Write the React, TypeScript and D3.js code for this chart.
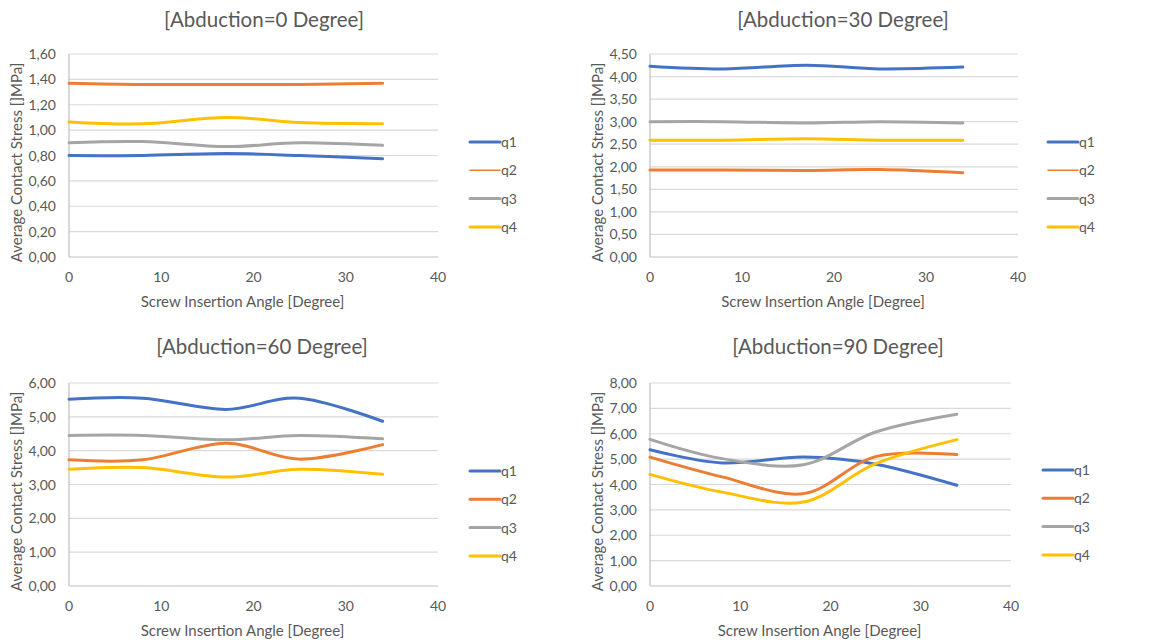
import * as d3 from 'd3';

// Screw insertion angles (x values)
const angles = [0, 8, 17, 25, 34];
const seriesNames = ['q1', 'q2', 'q3', 'q4'];
const colors = ['#4472C4', '#ED7D31', '#A5A5A5', '#FFC000'];

// Abduction = 0
const abd0_q1 = [0.8, 0.8, 0.815, 0.8, 0.775];
const abd0_q2 = [1.37, 1.36, 1.36, 1.36, 1.37];
const abd0_q3 = [0.9, 0.91, 0.87, 0.9, 0.88];
const abd0_q4 = [1.065, 1.05, 1.1, 1.06, 1.05];

// Abduction = 30
const abd30_q1 = [4.23, 4.17, 4.25, 4.17, 4.21];
const abd30_q2 = [1.93, 1.93, 1.92, 1.94, 1.87];
const abd30_q3 = [3.0, 3.0, 2.97, 3.0, 2.97];
const abd30_q4 = [2.59, 2.59, 2.62, 2.59, 2.59];

// Abduction = 60
const abd60_q1 = [5.52, 5.55, 5.22, 5.55, 4.87];
const abd60_q2 = [3.73, 3.73, 4.22, 3.75, 4.18];
const abd60_q3 = [4.45, 4.45, 4.32, 4.45, 4.35];
const abd60_q4 = [3.45, 3.5, 3.22, 3.45, 3.3];

// Abduction = 90
const abd90_q1 = [5.37, 4.85, 5.08, 4.8, 3.97];
const abd90_q2 = [5.08, 4.3, 3.64, 5.1, 5.18];
const abd90_q3 = [5.78, 5.02, 4.78, 6.07, 6.77];
const abd90_q4 = [4.4, 3.7, 3.31, 4.82, 5.77];

const xTicks = [0, 10, 20, 30, 40];
const yTicks0 = [0, 0.2, 0.4, 0.6, 0.8, 1.0, 1.2, 1.4, 1.6];
const yTicks30 = [0, 0.5, 1.0, 1.5, 2.0, 2.5, 3.0, 3.5, 4.0, 4.5];
const yTicks60 = [0, 1, 2, 3, 4, 5, 6];
const yTicks90 = [0, 1, 2, 3, 4, 5, 6, 7, 8];

const titles = [
  '[Abduction=0 Degree]',
  '[Abduction=30 Degree]',
  '[Abduction=60 Degree]',
  '[Abduction=90 Degree]',
];

const FONT = 'Lato, "Open Sans", sans-serif';
const TEXT = '#595959';

const fmt = (v: number) => d3.format('.2f')(v).replace('.', ',');

type PanelProps = {
  title: string;
  series: number[][];
  yTicks: number[];
  x0: number; x1: number; yTop: number; yBot: number;
  titleX: number; titleY: number;
  legX: number; legY: number;
  yLabX: number;
  thinQ2Legend: boolean;
};

function Panel(p: PanelProps) {
  const x = d3.scaleLinear().domain([0, 40]).range([p.x0, p.x1]);
  const y = d3.scaleLinear().domain([0, p.yTicks[p.yTicks.length - 1]]).range([p.yBot, p.yTop]);
  const line = d3.line<number>()
    .x((_, i) => x(angles[i]))
    .y(d => y(d))
    .curve(d3.curveCardinal.tension(0));
  const yMid = (p.yTop + p.yBot) / 2 + 7;
  return (
    <g fontFamily={FONT}>
      <text x={p.titleX} y={p.titleY} textAnchor="middle" fontSize={20.5} fill={TEXT}>{p.title}</text>
      {p.yTicks.map(t => (
        <g key={t}>
          {t > 0 && <line x1={p.x0} x2={p.x1} y1={y(t)} y2={y(t)} stroke="#d9d9d9" strokeWidth={1.2} />}
          <text x={p.x0 - 13} y={y(t) + 5} textAnchor="end" fontSize={14} fill={TEXT}>{fmt(t)}</text>
        </g>
      ))}
      <line x1={p.x0} x2={p.x0} y1={p.yTop} y2={p.yBot} stroke="#bfbfbf" strokeWidth={1.2} />
      <line x1={p.x0} x2={p.x1} y1={p.yBot} y2={p.yBot} stroke="#bfbfbf" strokeWidth={1.2} />
      {xTicks.map(t => (
        <text key={t} x={x(t)} y={p.yBot + 25} textAnchor="middle" fontSize={14} fill={TEXT}>{t}</text>
      ))}
      <text x={(p.x0 + p.x1) / 2 - 11} y={p.yBot + 50} textAnchor="middle" fontSize={15} fill={TEXT}>
        Screw Insertion Angle [Degree]
      </text>
      <text transform={`translate(${p.yLabX},${yMid}) rotate(-90)`} textAnchor="middle" fontSize={15} fill={TEXT}>
        Average Contact Stress []MPa]
      </text>
      {p.series.map((s, i) => (
        <path key={i} d={line(s) || ''} fill="none" stroke={colors[i]} strokeWidth={3} strokeLinecap="round" />
      ))}
      {seriesNames.map((n, i) => (
        <g key={n} transform={`translate(${p.legX},${p.legY + i * 28.3})`}>
          <line x1={0} x2={30} y1={0} y2={0} stroke={colors[i]}
            strokeWidth={p.thinQ2Legend && i === 1 ? 1.5 : 3} strokeLinecap="round" />
          <text x={31} y={5} fontSize={14} fill={TEXT}>{n}</text>
        </g>
      ))}
    </g>
  );
}

export default function App() {
  return (
    <svg width={1153} height={642} style={{ position: 'absolute', left: 0, top: 0, background: '#fff' }}>
      <rect width={1153} height={642} fill="#fff" />
      <Panel title={titles[0]} series={[abd0_q1, abd0_q2, abd0_q3, abd0_q4]} yTicks={yTicks0}
        x0={69} x1={438} yTop={54} yBot={257} titleX={264} titleY={27}
        legX={470} legY={142} yLabX={22} thinQ2Legend={true} />
      <Panel title={titles[1]} series={[abd30_q1, abd30_q2, abd30_q3, abd30_q4]} yTicks={yTicks30}
        x0={650} x1={1018} yTop={54} yBot={257} titleX={843} titleY={27}
        legX={1048} legY={142} yLabX={603} thinQ2Legend={true} />
      <Panel title={titles[2]} series={[abd60_q1, abd60_q2, abd60_q3, abd60_q4]} yTicks={yTicks60}
        x0={69} x1={438} yTop={383} yBot={586} titleX={262} titleY={354}
        legX={470} legY={471} yLabX={22} thinQ2Legend={false} />
      <Panel title={titles[3]} series={[abd90_q1, abd90_q2, abd90_q3, abd90_q4]} yTicks={yTicks90}
        x0={650} x1={1011} yTop={383} yBot={586} titleX={838} titleY={354}
        legX={1043} legY={470} yLabX={603} thinQ2Legend={false} />
    </svg>
  );
}
